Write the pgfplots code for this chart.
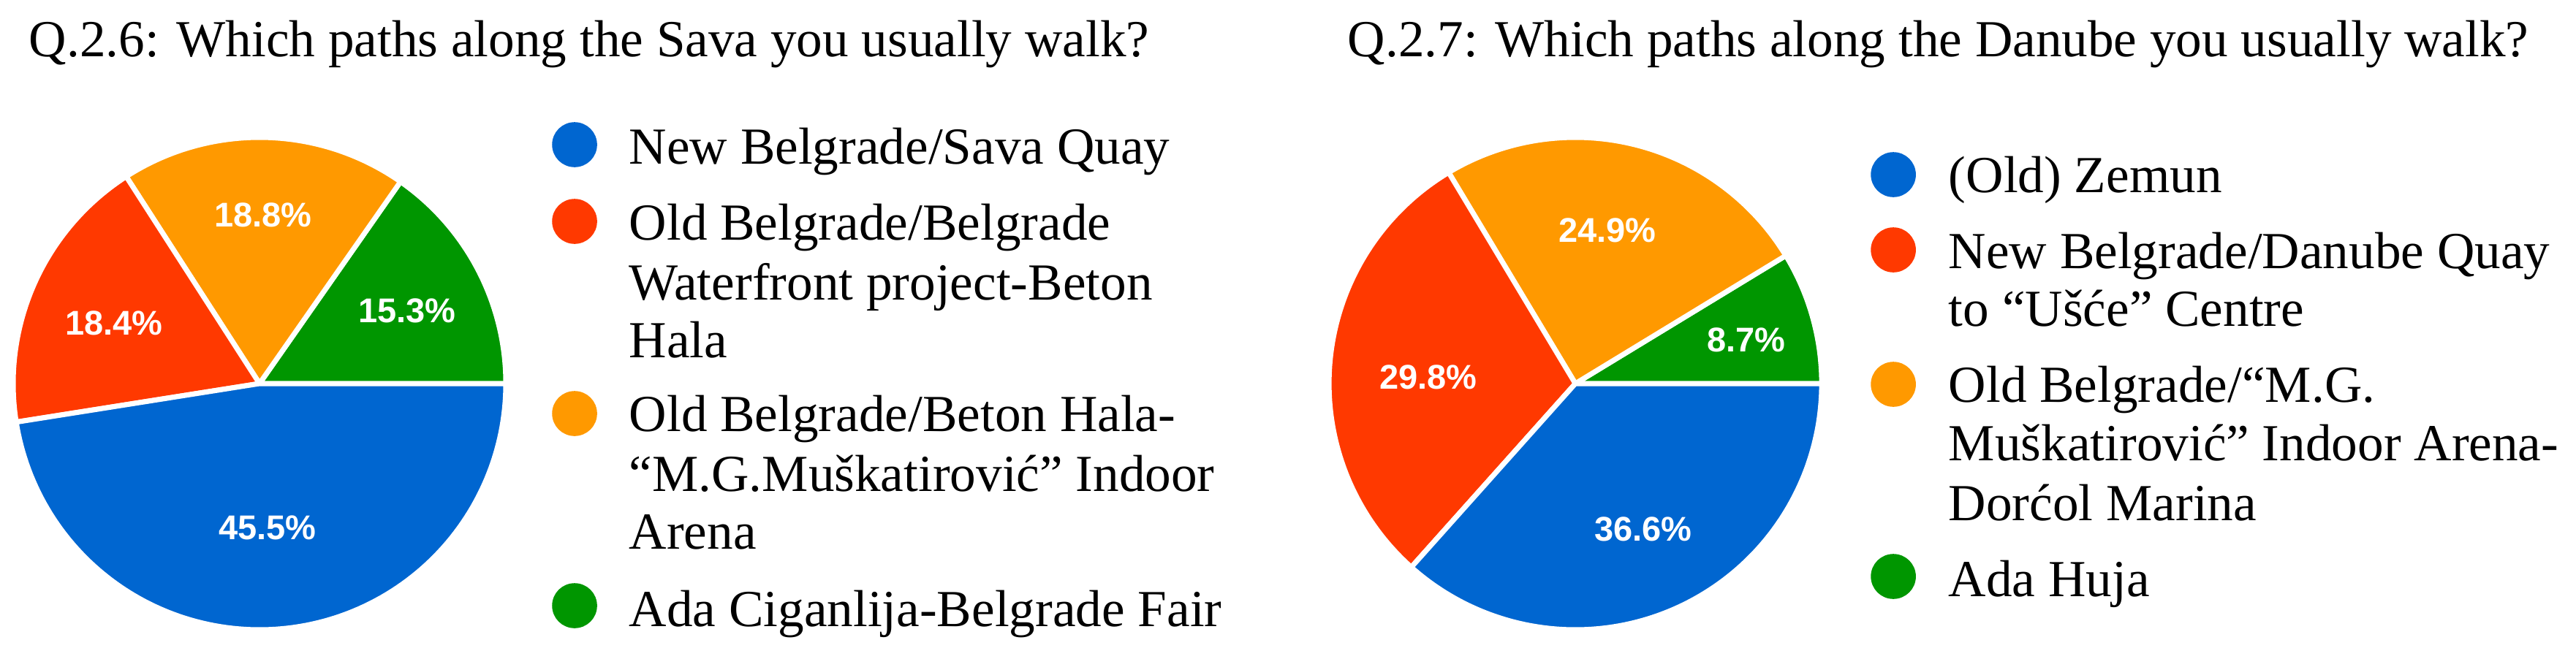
\documentclass[border=0pt]{standalone}
\usepackage{fontspec}
\setmainfont{Liberation Serif}
\newfontfamily\labfont{Liberation Sans}
\usepackage{pgfplots}
\pgfplotsset{compat=1.18}
\definecolor{gblue}{RGB}{0,102,208}
\definecolor{gred}{RGB}{255,57,0}
\definecolor{gorange}{RGB}{255,153,0}
\definecolor{ggreen}{RGB}{0,150,0}
% Q.2.6 (Sava) shares in percent
\def\Lblue{45.5}\def\Lred{18.4}\def\Lorange{18.8}\def\Lgreen{15.3}
% Q.2.7 (Danube) shares in percent
\def\Rblue{36.6}\def\Rred{29.8}\def\Rorange{24.9}\def\Rgreen{8.7}
\pgfmathsetmacro\La{3.6*\Lgreen}
\pgfmathsetmacro\Lb{\La+3.6*\Lorange}
\pgfmathsetmacro\Lc{\Lb+3.6*\Lred}
\pgfmathsetmacro\Ra{3.6*\Rgreen}
\pgfmathsetmacro\Rb{\Ra+3.6*\Rorange}
\pgfmathsetmacro\Rc{\Rb+3.6*\Rred}
\newcommand\slice[5]{\addplot[draw=white, line width=1.75pt, fill=#5, domain=#3:#4, samples=120, variable=\t, forget plot] ({#1+337*cos(\t)},{#2-337*sin(\t)}) -- (axis cs:#1,#2) -- cycle;}
\newcommand\pct[3]{\node[font=\labfont\bfseries\fontsize{11.75}{13}\selectfont, text=white, inner sep=0] at (axis cs:#1,#2) {#3\%};}
\newcommand\leg[3]{\node[font=\fontsize{17.8}{20}\selectfont, anchor=base west, inner sep=0] at (axis cs:#1,#2) {#3};}
\newcommand\legdot[3]{\addplot[only marks, mark=*, mark size=7.5pt, color=#3, forget plot] coordinates {(#1,#2)};}
\begin{document}
\begin{tikzpicture}
\useasboundingbox (0,0) rectangle (881pt,225.25pt);
\begin{axis}[at={(0,0)}, anchor=south west, scale only axis, width=881pt, height=225.25pt,
  xmin=0, xmax=3524, ymin=0, ymax=901, y dir=reverse,
  hide axis, clip=false]
% left pie
\slice{355}{525}{0}{\La}{ggreen}
\slice{355}{525}{\La}{\Lb}{gorange}
\slice{355}{525}{\Lb}{\Lc}{gred}
\slice{355}{525}{\Lc}{360}{gblue}
\pct{366}{722}{\Lblue}
\pct{156}{442}{\Lred}
\pct{360}{294}{\Lorange}
\pct{557}{425}{\Lgreen}
% right pie
\slice{2155}{525}{0}{\Ra}{ggreen}
\slice{2155}{525}{\Ra}{\Rb}{gorange}
\slice{2155}{525}{\Rb}{\Rc}{gred}
\slice{2155}{525}{\Rc}{360}{gblue}
\pct{2248}{724}{\Rblue}
\pct{1954}{516}{\Rred}
\pct{2199}{315}{\Rorange}
\pct{2389}{465}{\Rgreen}
% titles
\node[font=\fontsize{17.8}{20}\selectfont, anchor=base west, inner sep=0] at (axis cs:39,77) {Q.2.6: Which paths along the Sava you usually walk?};
\node[font=\fontsize{17.8}{20}\selectfont, anchor=base west, inner sep=0] at (axis cs:1843,77) {Q.2.7: Which paths along the Danube you usually walk?};
% left legend
\legdot{786}{198}{gblue}
\legdot{786}{303}{gred}
\legdot{786}{566}{gorange}
\legdot{786}{829}{ggreen}
\leg{860}{224}{New Belgrade/Sava Quay}
\leg{860}{328}{Old Belgrade/Belgrade}
\leg{860}{410}{Waterfront project-Beton}
\leg{860}{489}{Hala}
\leg{860}{590}{Old Belgrade/Beton Hala-}
\leg{860}{672}{“M.G.Muškatirović” Indoor}
\leg{860}{751}{Arena}
\leg{860}{857}{Ada Ciganlija-Belgrade Fair}
% right legend
\legdot{2590}{239}{gblue}
\legdot{2590}{342}{gred}
\legdot{2590}{526}{gorange}
\legdot{2590}{789}{ggreen}
\leg{2665}{263}{(Old) Zemun}
\leg{2665}{367}{New Belgrade/Danube Quay}
\leg{2665}{446}{to “Ušće” Centre}
\leg{2665}{550}{Old Belgrade/“M.G.}
\leg{2665}{630}{Muškatirović” Indoor Arena-}
\leg{2665}{712}{Dorćol Marina}
\leg{2665}{816}{Ada Huja}
\end{axis}
\end{tikzpicture}
\end{document}
